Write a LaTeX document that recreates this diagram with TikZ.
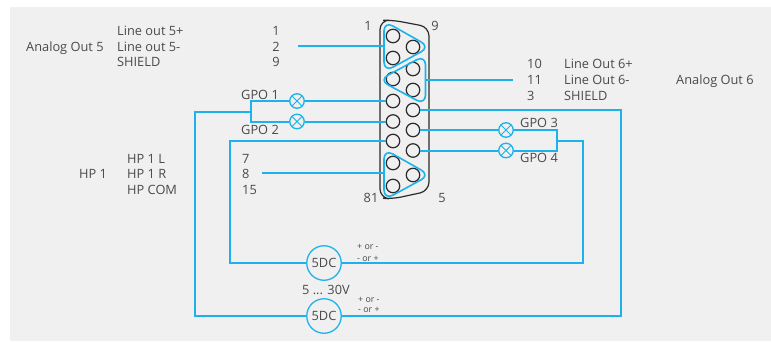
\documentclass[tikz,border=0pt]{standalone}
\usepackage{fontspec}
\setmainfont{Open Sans}
\definecolor{wire}{HTML}{1DB2EC}
\definecolor{bg}{HTML}{F0F0F0}
\definecolor{ink}{HTML}{4A4A4A}
\definecolor{shell}{HTML}{2B2B2B}
\tikzset{
  wirel/.style={draw=wire,line width=2pt},
  pin/.style={circle,draw=shell,line width=1.2pt,minimum size=13.5pt,inner sep=0pt},
  lamp/.style={circle,draw=wire,line width=1.3pt,minimum size=14.5pt,inner sep=0pt,
    path picture={\draw[wire,line width=1pt] (path picture bounding box.north west) -- (path picture bounding box.south east) (path picture bounding box.north east) -- (path picture bounding box.south west);}},
  dc/.style={circle,draw=wire,fill=bg,line width=1.3pt,minimum size=34.5pt,inner sep=0pt,text=ink,font=\fontsize{12.8}{13}\selectfont},
  lbl/.style={anchor=base west,inner sep=0pt,text=ink,font=\fontsize{12.8}{13}\selectfont},
  lblc/.style={anchor=base,inner sep=0pt,text=ink,font=\fontsize{12.8}{13}\selectfont},
  tiny/.style={anchor=base west,inner sep=0pt,text=ink,font=\fontsize{8.8}{10}\selectfont},
  tri/.style={draw=wire,line width=1.6pt,rounded corners=10pt},
}
\begin{document}
\begin{tikzpicture}[x=1pt,y=-1pt]
\useasboundingbox (0,0) rectangle (771,341);
\fill[bg] (10,7) rectangle (771,341);
% shell
\draw[shell,line width=1.2pt,rounded corners=9pt] (380,60) -- (380,20.5) -- (392,20) -- (429,27) -- (429,100) -- (429,191) -- (392,199) -- (380,198) -- cycle;
% pins
\foreach \n/\x/\y in {a1/393/36,a2/413/47,a3/393/58,a4/413/69,a5/393/79,a6/413/90,a7/393/101,a8/413/110,a9/393/121.5,a10/413/130,a11/393/141,a12/413/150.5,a13/393/163,a14/413/175,a15/393/186}
  \node[pin] (\n) at (\x,\y) {};
% triangles
\draw[tri] (384,21) -- (384,72) -- (430,47) -- cycle;
\draw[tri] (425.5,55) -- (425.5,105) -- (379,80) -- cycle;
\draw[tri] (384,149) -- (384,200) -- (430,175) -- cycle;
\coordinate (t1) at (384,46);
\coordinate (t2) at (425.5,79.5);
\coordinate (t3) at (384,173);
\coordinate (w1) at (298,46);
\coordinate (w2) at (513,79.5);
\coordinate (w3) at (262,173);
\draw[wirel] (w1) -- (t1);
\draw[wirel] (t2) -- (w2);
\draw[wirel] (w3) -- (t3);
% lamps
\node[lamp] (l1) at (297,101) {};
\node[lamp] (l2) at (297,121.5) {};
\node[lamp] (l3) at (506,130) {};
\node[lamp] (l4) at (506,150.5) {};
% dc
\node[dc] (d1) at (324,263) {5DC};
\node[dc] (d2) at (324,316) {5DC};
\coordinate (jl) at (251,112);
\coordinate (jr) at (557,141);
% wires
\draw[wirel] (a7) -- (l1);
\draw[wirel] (a9) -- (l2);
\draw[wirel] (l1) -| (jl) |- (l2);
\draw[wirel] (jl) -| (195,316) -- (d2);
\draw[wirel] (a10) -- (l3);
\draw[wirel] (a12) -- (l4);
\draw[wirel] (l3) -| (jr) |- (l4);
\draw[wirel] (jr) -| (583,263) -- (d1);
\draw[wirel] (a11) -| (230,263) -- (d1);
\draw[wirel] (a8) -| (621,316) -- (d2);
% labels
\node[lbl] (n1) at (26,51) {Analog Out 5};
\node[lbl] (n2) at (117,35.5) {Line out 5+};
\node[lbl] (n3) at (117,51) {Line out 5-};
\node[lbl] (n4) at (117,66.5) {SHIELD};
\node[lblc] (n5) at (276,35.5) {1};
\node[lblc] (n6) at (276,51) {2};
\node[lblc] (n7) at (276,66.5) {9};
\node[lblc] (n8) at (368,30) {1};
\node[lblc] (n9) at (435,30) {9};
\node[lblc] (n10) at (371,202) {81};
\node[lblc] (n11) at (442,202) {5};
\node[lbl] (n12) at (527,68) {10};
\node[lbl] (n13) at (527,84) {11};
\node[lbl] (n14) at (527,100) {3};
\node[lbl] (n15) at (564,68) {Line Out 6+};
\node[lbl] (n16) at (564,84) {Line Out 6-};
\node[lbl] (n17) at (564,100) {SHIELD};
\node[lbl] (n18) at (676,84) {Analog Out 6};
\node[lbl] (n19) at (241,99) {GPO 1};
\node[lbl] (n20) at (241,134) {GPO 2};
\node[lbl] (n21) at (520,127) {GPO 3};
\node[lbl] (n22) at (520,162.5) {GPO 4};
\node[lbl] (n23) at (79,178) {HP 1};
\node[lbl] (n24) at (127,163) {HP 1 L};
\node[lbl] (n25) at (127,178) {HP 1 R};
\node[lbl] (n26) at (127,194) {HP COM};
\node[lbl] (n27) at (242,163) {7};
\node[lbl] (n28) at (242,178) {8};
\node[lbl] (n29) at (242,194) {15};
\node[lbl] (n30) at (302,294) {5 ... 30V};
\node[tiny] (n31) at (357,249) {+ or -};
\node[tiny] (n32) at (357,261) {- or +};
\node[tiny] (n33) at (358,302) {+ or -};
\node[tiny] (n34) at (358,312.5) {- or +};
\end{tikzpicture}
\end{document}
